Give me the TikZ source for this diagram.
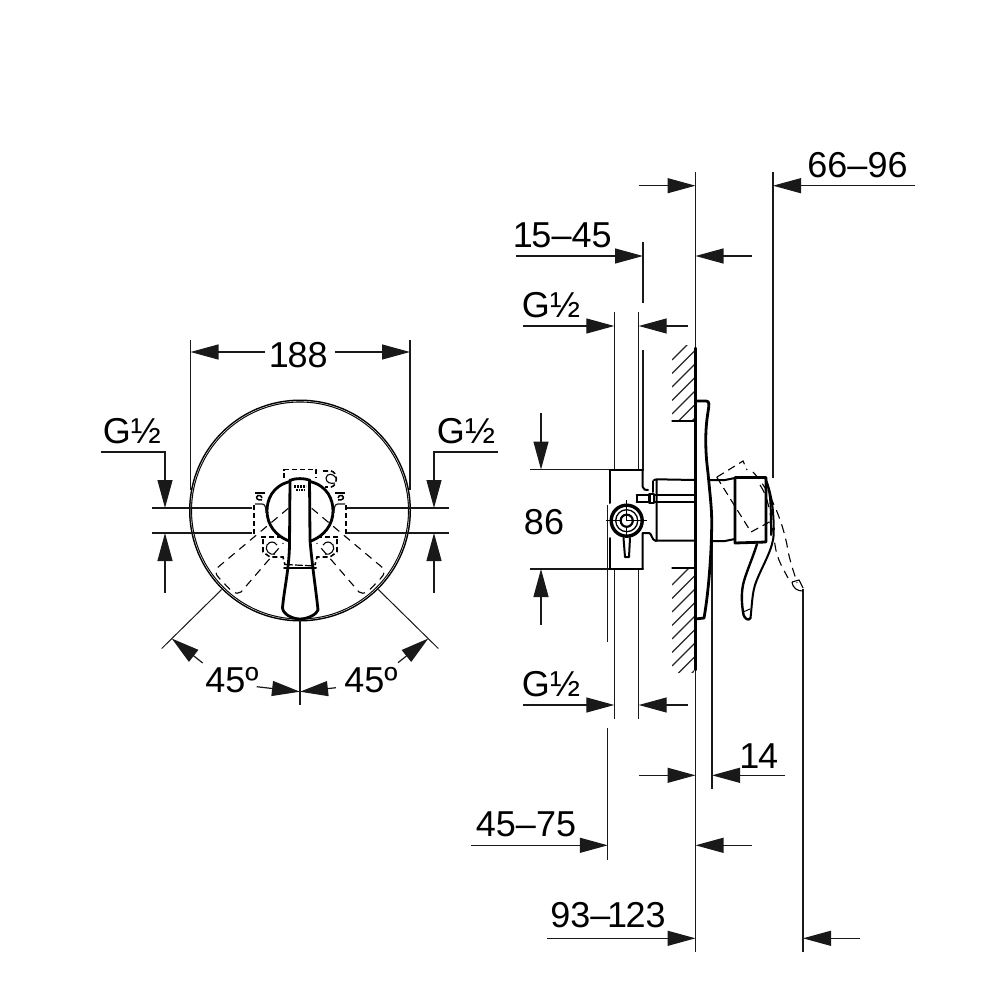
\documentclass[tikz,border=0pt]{standalone}
\usepackage{fontspec}
\setmainfont{Liberation Sans}
\usetikzlibrary{arrows.meta}
\newcommand{\narrowone}{\kern-4.5pt 1\kern-1.5pt }
\tikzset{
  thinln/.style={line width=1.2pt,black!90},
  thickln/.style={line width=2.8pt,black,line cap=round,line join=round},
  medln/.style={line width=2pt,black,line cap=round,line join=round},
  dim/.style={thinln,-{Triangle[length=28pt,width=15pt]}},
  dashln/.style={line width=1.1pt,black,dash pattern=on 8pt off 6pt},
  dashshort/.style={line width=1.6pt,black,dash pattern=on 5pt off 3pt},
  lbl/.style={font=\fontsize{36}{36}\selectfont,inner sep=0pt,text=black},
  hatchln/.style={line width=1.1pt,black!85}
}
\begin{document}
\begin{tikzpicture}[x=1pt,y=-1pt]
\useasboundingbox (0,0) rectangle (1000,1000);
\fill[white] (0,0) rectangle (1000,1000);

% ---------- front view ----------
\draw[thinln] (190.5,340) -- (190.5,490);
\draw[thinln] (410,340) -- (410,490);
\draw[dim] (265,352) -- (190.5,352);
\draw[dim] (335,352) -- (410,352);
\node[lbl] (w188) at (300.5,355) {\narrowone 88};
% plate
\draw[line width=3pt,black] (300,510.5) circle (109.5);
\draw[line width=.4pt,white] (300,510.5) circle (109.3);
% axis lines
\draw[thinln] (152,508) -- (252,508);
\draw[thinln] (152,533) -- (252,533);
\draw[thinln] (347,508) -- (449,508);
\draw[thinln] (347,533) -- (449,533);
% left G1/2
\draw[dim] (101,452) -- (165,452) -- (165,508);
\draw[dim] (165,593) -- (165,533);
\draw[dim] (498,452) -- (434,452) -- (434,508);
\draw[dim] (434,593) -- (434,533);
\node[lbl] (gl) at (132,431) {G½};
\node[lbl] (gr) at (466,431) {G½};
% hub
\draw[thickln] (290,481.5) .. controls (272,486) and (267,500) .. (267,511) .. controls (267,525) and (276,536) .. (289,541);
\draw[thickln] (310,481.5) .. controls (328,486) and (333,500) .. (333,511) .. controls (333,525) and (324,536) .. (311,541);
\draw[thickln] (290,480.5) .. controls (295,478) and (305,478) .. (310,480.5);
% handle
\draw[thickln] (290,480) -- (289.5,545) .. controls (289,570) and (284,590) .. (282.5,608) .. controls (283,614) and (292,619) .. (300,619) .. controls (308,619) and (317,614) .. (318,610) .. controls (316,590) and (312,565) .. (310,540) -- (309.5,480);
\draw[medln] (284,568) -- (316,568);
\draw[line width=1.2pt,dash pattern=on 8pt off 2pt] (285,564.5) -- (315,566);
\draw[line width=2.4pt,dash pattern=on 2pt off 1pt] (294,486.5) -- (306,486.5);
\draw[line width=1.4pt,dash pattern=on 1.5pt off 1pt] (296,490) -- (304,490);
% dashed fixing
\draw[dashshort] (284,478) -- (284,469.5) -- (316,469.5) -- (316,478);
\draw[dashshort] (254,505) -- (254,537);
\draw[dashshort] (346,505) -- (346,537);
\draw[dashshort] (261,537) -- (283,537);
\draw[dashshort] (317,537) -- (339,537);
\draw[dashshort] (263,539) -- (263,552) -- (270,557) -- (283,557) -- (285,565);
\draw[dashshort] (337,539) -- (337,552) -- (330,557) -- (317,557) -- (315,565);
\draw[dashshort] (323,471) -- (331,471) .. controls (338,472) and (338,486) .. (331,487) -- (325,487);
\draw[line width=1.1pt] (336,478) .. controls (333,473) and (327,473) .. (326,478) .. controls (326,483) and (331,484) .. (335,483);
% small ears
\draw[line width=1.2pt] (255,493) -- (265,493);
\draw[line width=1.2pt] (345,493) -- (335,493);
\draw[line width=1.5pt] (262,500) .. controls (257,501) and (255,497) .. (258,495.5) .. controls (260,495) and (262,496) .. (262,498);
\draw[line width=1.5pt] (338,500) .. controls (343,501) and (345,497) .. (342,495.5) .. controls (340,495) and (338,496) .. (338,498);
\draw[line width=1.1pt] (277,545) .. controls (274,541) and (270,541) .. (267,545) .. controls (264,550) and (270,556) .. (275,554);
\draw[line width=1.1pt] (323,545) .. controls (326,541) and (330,541) .. (333,545) .. controls (336,550) and (330,556) .. (325,554);
\draw[thinln] (255,504) -- (262,504) .. controls (265,504) and (266,507) .. (266,513);
\draw[thinln] (345,504) -- (338,504) .. controls (335,504) and (334,507) .. (334,513);
% dashed 45 degree levers
\draw[dashln] (288.3,508.3) -- (216.7,568.3) .. controls (214,574) and (218,577) .. (223,582) .. controls (230,590) and (236,596) .. (241,592) -- (283.3,543);
\draw[dashln] (311.7,508.3) -- (383.3,568.3) .. controls (386,574) and (382,577) .. (377,582) .. controls (370,590) and (364,596) .. (359,592) -- (316.7,543);
% angle dims
\draw[thinln,line width=1pt] (221.7,589.5) -- (161.7,648.5);
\draw[thinln,line width=1pt] (378.3,589.5) -- (438.3,648.5);
\draw[thinln] (300,620) -- (300,705);
\draw[dim] (202.7,663) -- (171.7,638.5);
\draw[dim] (398,662.7) -- (428.3,638.5);
\draw[dim] (256.7,686.7) -- (300,691.7);
\draw[dim] (336,687.7) -- (300,691.7);
\node[lbl] (al) at (232,680) {45º};
\node[lbl] (ar) at (371,680) {45º};

% ---------- side view: extension lines ----------
\draw[thinln] (695.5,172) -- (695.5,952);
\draw[thinln] (773,172) -- (773,478);
\draw[thinln] (803,589) -- (803,952);
\draw[thinln] (712,530) -- (712,789);
\draw[thinln] (614.3,312) -- (614.3,470);
\draw[thinln] (614.3,569) -- (614.3,719);
\draw[thinln] (638.7,312) -- (638.7,470);
\draw[thinln] (638.7,569) -- (638.7,719);
\draw[thinln] (643,242) -- (643,303);
\draw[thinln] (643,350) -- (643,470);
\draw[thinln] (607.8,505) -- (607.8,642);
\draw[thinln] (607.8,728) -- (607.8,860);
\draw[thinln] (530,469.5) -- (611,469.5);
\draw[thinln] (530,569) -- (611,569);

% dimensions
\draw[dim] (639,185.7) -- (695.5,185.7);
\draw[dim] (915,185.7) -- (773,185.7);
\node[lbl] (d1) at (857.5,165) {66–96};
\draw[dim] (516,256) -- (643,256);
\draw[dim] (752,256) -- (695.5,256);
\node[lbl] (d2) at (564.5,235) {\narrowone 5–45};
\draw[dim] (523,326) -- (614.3,326);
\draw[dim] (688,326) -- (638.7,326);
\node[lbl] (d3) at (551,305) {G½};
\draw[dim] (541,413) -- (541,469.5);
\draw[dim] (541,625) -- (541,569);
\node[lbl] (d4) at (544,522) {86};
\draw[dim] (523,705) -- (614.3,705);
\draw[dim] (688,705) -- (638.7,705);
\node[lbl] (d5) at (551,684) {G½};
\draw[dim] (639,775.3) -- (695.5,775.3);
\draw[dim] (785,775.3) -- (712,775.3);
\node[lbl] (d6) at (761,756) {\narrowone 4};
\draw[dim] (471,845.3) -- (607.8,845.3);
\draw[dim] (752,845.3) -- (695.5,845.3);
\node[lbl] (d7) at (526,824) {45–75};
\draw[dim] (547,938.3) -- (695.5,938.3);
\draw[dim] (860,938.3) -- (803,938.3);
\node[lbl] (d8) at (608,915) {93–\kern1pt\narrowone 23};

% hatching
\begin{scope}
\clip (672,345) rectangle (694,421);
\foreach \k in {0,...,8}{
  \draw[hatchln] (672,360+\k*13.5) -- (720,312+\k*13.5);
}
\end{scope}
\begin{scope}
\clip (672,568) rectangle (694,672);
\foreach \k in {0,...,9}{
  \draw[hatchln] (672,585+\k*13.5) -- (720,537+\k*13.5);
}
\end{scope}
\draw[thickln] (672.5,421) -- (695,421);
\draw[thickln] (672.5,568) -- (695,568);
\draw[thickln] (695.5,348) -- (695.5,670);

% plate side
\draw[thickln] (695.5,401) -- (706,401) .. controls (710,401) and (709,405) .. (708,412) .. controls (705,430) and (705,450) .. (708,473) .. controls (710,495) and (712,510) .. (711.7,525) .. controls (711.5,550) and (709,590) .. (704,618) -- (695.5,619);

% valve body
\draw[thickln] (610,470) -- (642.7,470);
\draw[thickln] (610,569) -- (642.7,569);
\draw[medln] (610,470) -- (610,503) (610,538) -- (610,569);
\draw[medln] (642.7,470) -- (642.7,487) .. controls (643,490) and (646,490) .. (648,490);
\draw[medln] (642.7,569) -- (642.7,533) -- (649,533) .. controls (652,533) and (651,540) .. (656,541);
\draw[medln] (654,480) -- (656.7,479.3) -- (695,480);
\draw[medln] (653,481) -- (653,492);
\draw[medln] (656.7,480) -- (656.7,540.7) -- (695,540.5);
\draw[medln] (636.7,495) -- (695,495);
\draw[medln] (636.7,501.5) -- (695,501.5);
\draw[medln] (636.7,495) -- (636.7,501.5);
\draw[thickln,fill=white] (649.5,494) rectangle (654,503);
% outlet
\draw[line width=3.4pt] (626.7,520.7) circle (15.5);
\draw[line width=1.3pt] (626.7,520.7) circle (11);
\draw[line width=2pt] (626.7,520.7) circle (6);
\draw[line width=1pt] (606,520.7) -- (647,520.7) (626.7,500) -- (626.7,541);
\fill[white] (622,516) rectangle (632,526);
\draw[line width=2pt] (626.7,520.7) circle (6);
\draw[line width=1pt] (626.7,515) -- (626.7,520.7) -- (631.5,520.7);
\draw[medln,fill=white] (623.5,538) -- (625,557) -- (629,557) -- (630,538);

% handle side
\draw[medln] (710,480) -- (725,480) -- (735,478);
\draw[medln] (711,541) -- (725,541) -- (735,539);
\draw[thickln] (735,477.5) -- (766,477.5) -- (766,542) -- (735,543) -- cycle;
\draw[medln] (765,477.5) .. controls (770,490) and (772,500) .. (773,512) .. controls (774,525) and (774,535) .. (773,540) .. controls (770,555) and (760,570) .. (755,585) .. controls (752,595) and (752,605) .. (750.5,618);
\draw[medln] (767,483) .. controls (771,495) and (771,510) .. (771,535);
\draw[thickln,line width=2.4pt] (757,544) .. controls (752,560) and (745,575) .. (743,585) .. controls (741,595) and (742,605) .. (743,612) .. controls (744,620) and (749,621) .. (750.5,618);
\draw[line width=1pt] (743,612) -- (750,609);
% dashed lever positions
\draw[dashln,dash pattern=on 8pt off 5pt] (717,477) -- (743,461) -- (747,470);
\draw[dashln,dash pattern=on 8pt off 5pt] (716.7,477) -- (736,508) -- (751,532) -- (773,520);
\draw[dashln,dash pattern=on 9pt off 6pt] (753,472) .. controls (770,490) and (782,520) .. (787,545) .. controls (789,560) and (795,575) .. (797,583);
\draw[dashln,dash pattern=on 9pt off 6pt] (760,485) .. controls (770,500) and (771,520) .. (775,545) .. controls (777,560) and (784,570) .. (788,578);
\draw[line width=1.1pt] (792,582) .. controls (793,589) and (798,591) .. (803,591) (792,582) -- (799,580) -- (803,588);
\end{tikzpicture}
\end{document}
